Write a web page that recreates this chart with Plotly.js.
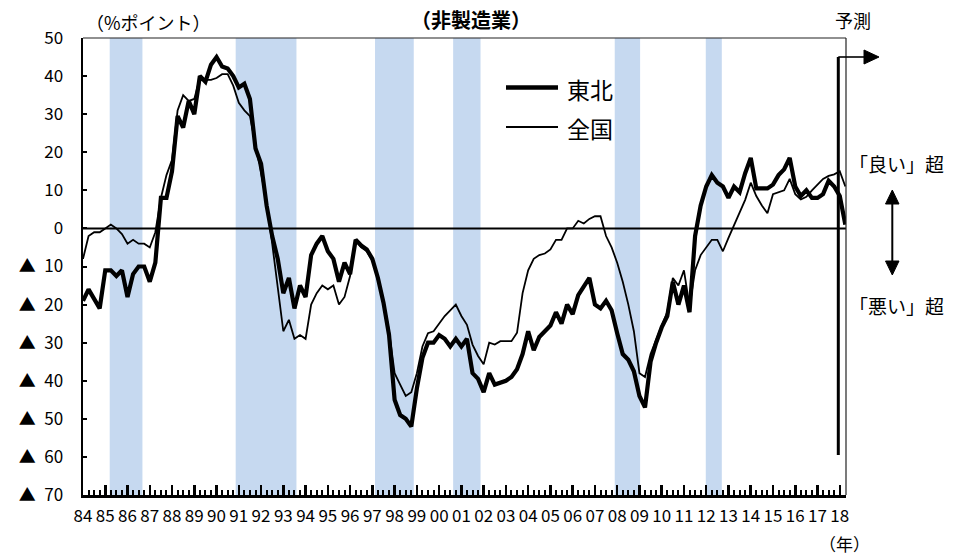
<!DOCTYPE html>
<html>
<head>
<meta charset="utf-8">
<script src="https://cdn.plot.ly/plotly-3.0.1.min.js"></script>
<style>html,body{margin:0;padding:0;background:#fff;}#chart{width:962px;height:555px;}</style>
</head>
<body>
<div id="chart"></div>
<script>
// Quarterly series, 1984Q1 .. 2018Q2 (last = forecast)
const startYear = 1984;
const tohoku = [
 -19,-16,-18.5,-21, -11,-11,-12.5,-11, -18,-12,-10,-10, -14,-9,8,8,
 15,29.5,26.5,33.5, 30,40,38.5,43, 45,42.5,42,40, 37,38,34,21,
 17,6,-2,-8, -17,-13,-21,-15, -18,-7,-4,-2, -6,-8,-14,-9,
 -12,-3,-4.5,-5.5, -8,-13,-19.5,-28, -45,-49,-50,-52, -42,-34,-30,-30,
 -28,-29,-31,-29, -31,-29,-38,-39.5, -43,-38,-41,-40.5, -40,-39,-37,-33,
 -27,-32,-28.5,-27, -25.5,-22,-25,-20, -22.5,-17.5,-15,-13, -20,-21,-19,-21.5,
 -27.5,-33,-34.5,-37.5, -44,-47,-35,-30, -26,-23,-14,-20, -15,-22,-2,6,
 11,14,12,11, 8,11,9.5,14.5, 18.5,10.5,10.5,10.5, 11.5,14,15.5,18.5,
 11,8.5,10,8, 8,9,12.5,11, 8.5,1
];
const zenkoku = [
 -8,-2,-1,-1, 0,1,0,-1.5, -4,-3,-4,-4, -5,-1,8,14,
 18,31,35,33.5, 34,39.5,39,39, 39.5,40.5,40.5,37.5, 33,31,29.5,22,
 15,7,-4,-15, -27,-24,-29,-28, -29,-20,-17,-15, -16,-15,-20,-18,
 -12.5,-3,-5,-6, -8.5,-12.5,-19,-27, -38,-41,-44,-43, -38,-31,-27.5,-27,
 -25,-23,-21.5,-20, -23,-25.3,-30.5,-33.5, -35.7,-30,-30.5,-29.6, -29.6,-29.6,-27.4,-17,
 -11,-8,-7,-6.6, -5.5,-3,-3,0, 0,2,1.3,2.5, 3.2,3.2,-2,-5,
 -9,-14,-20,-27, -38,-39,-33,-29, -25.5,-22,-13,-15, -11,-20.5,-11,-7,
 -5,-3,-3,-6, -2.5,1,4.5,7.5, 12,8.5,6,4, 9,9.5,10,13,
 9,7.6,8.3,10, 11.5,13,13.8,14.2, 15,11
];
const yearTicks = [1984,1985,1986,1987,1988,1989,1990,1991,1992,1993,1994,1995,1996,1997,1998,1999,2000,2001,2002,2003,2004,2005,2006,2007,2008,2009,2010,2011,2012,2013,2014,2015,2016,2017,2018];
const yearLabels = ['84','85','86','87','88','89','90','91','92','93','94','95','96','97','98','99','00','01','02','03','04','05','06','07','08','09','10','11','12','13','14','15','16','17','18'];
const yTickVals = [50,40,30,20,10,0,-10,-20,-30,-40,-50,-60,-70];
const yTickText = ['50','40','30','20','10','0','▲\u200210','▲\u200220','▲\u200230','▲\u200240','▲\u200250','▲\u200260','▲\u200270'];
// recession periods (fractional years)
const recessions = [[1985.20,1986.67],[1990.86,1993.59],[1997.12,1998.86],[2000.63,2001.86],[2007.89,2009.03],[2011.98,2012.70]];

const xq = tohoku.map((_, i) => startYear + i / 4);

const FONT = '"Noto Sans CJK JP", "Noto Sans", sans-serif';
const L = 83, R = 846, T = 38, B = 495;
const px = v => (v - L) / (R - L);
const py = v => (B - v) / (B - T);

const shapes = [];
recessions.forEach(r => shapes.push({type:'rect', xref:'x', yref:'paper', x0:r[0], x1:r[1], y0:0, y1:1,
  fillcolor:'rgb(198,217,240)', line:{width:0}, layer:'below'}));
shapes.push({type:'line', xref:'paper', yref:'y', x0:0, x1:1, y0:0, y1:0, line:{color:'black', width:2}, layer:'below'});
// top & right border
shapes.push({type:'line', xref:'paper', yref:'paper', x0:0, x1:1, y0:1, y1:1, line:{color:'#222', width:1.2}});
shapes.push({type:'line', xref:'paper', yref:'paper', x0:1, x1:1, y0:0, y1:1, line:{color:'#222', width:1.2}});
// legend samples
shapes.push({type:'line', xref:'paper', yref:'paper', x0:px(506), x1:px(558), y0:py(87.5), y1:py(87.5), line:{color:'black', width:4.5}});
shapes.push({type:'line', xref:'paper', yref:'paper', x0:px(506), x1:px(558), y0:py(127), y1:py(127), line:{color:'black', width:1.8}});
// forecast line + arrow
shapes.push({type:'line', xref:'paper', yref:'paper', x0:px(838.3), x1:px(838.3), y0:py(57), y1:py(455), line:{color:'black', width:3}});
shapes.push({type:'line', xref:'paper', yref:'paper', x0:px(838.3), x1:px(866), y0:py(57), y1:py(57), line:{color:'black', width:1.6}});
shapes.push({type:'path', xref:'paper', yref:'paper',
  path:`M ${px(864)} ${py(50)} L ${px(879)} ${py(57)} L ${px(864)} ${py(64)} Z`, fillcolor:'black', line:{color:'black', width:1}});
// double arrow
shapes.push({type:'line', xref:'paper', yref:'paper', x0:px(892.3), x1:px(892.3), y0:py(200), y1:py(265), line:{color:'black', width:2}});
shapes.push({type:'path', xref:'paper', yref:'paper',
  path:`M ${px(885.5)} ${py(204)} L ${px(892.3)} ${py(190)} L ${px(899)} ${py(204)} Z`, fillcolor:'black', line:{color:'black', width:1}});
shapes.push({type:'path', xref:'paper', yref:'paper',
  path:`M ${px(885.5)} ${py(261)} L ${px(892.3)} ${py(275)} L ${px(899)} ${py(261)} Z`, fillcolor:'black', line:{color:'black', width:1}});

const ann = (text, x, y, size, opts) => Object.assign({text, xref:'paper', yref:'paper', x:px(x), y:py(y),
  showarrow:false, xanchor:'center', yanchor:'middle', font:{family:FONT, size, color:'black'}}, opts || {});
const annotations = [
  ann('<b>（非製造業）</b>', 471, 20, 20),
  ann('（%ポイント）', 148, 22, 18),
  ann('予測', 853, 20, 18),
  ann('東北', 565, 89, 23, {xanchor:'left'}),
  ann('全国', 565, 128, 23, {xanchor:'left'}),
  ann('「良い」超', 896, 164, 19),
  ann('「悪い」超', 896, 305, 19),
  ann('（年）', 844, 543, 17)
];

const traces = [
  {x:xq, y:tohoku, type:'scatter', mode:'lines', name:'東北', line:{color:'black', width:4.2}, showlegend:false},
  {x:xq, y:zenkoku, type:'scatter', mode:'lines', name:'全国', line:{color:'black', width:1.8}, showlegend:false}
];

const layout = {
  width:962, height:555,
  margin:{l:L, r:962-R, t:T, b:555-B},
  paper_bgcolor:'white', plot_bgcolor:'white',
  font:{family:FONT, color:'black'},
  showlegend:false,
  xaxis:{range:[1984, 2018.28], tickmode:'array', tickvals:yearTicks, ticktext:yearLabels,
    ticks:'inside', ticklen:10, tickwidth:2.5, tickcolor:'black',
    showline:true, linecolor:'black', linewidth:2.5, showgrid:false, zeroline:false,
    tickfont:{family:FONT, size:17, color:'black'}, ticklabelstandoff:4,
    minor:{tick0:1984, dtick:0.25, ticks:'inside', ticklen:5, tickwidth:2, tickcolor:'black', showgrid:false}},
  yaxis:{range:[-70, 50], tickmode:'array', tickvals:yTickVals, ticktext:yTickText,
    ticks:'inside', ticklen:4, tickwidth:2, tickcolor:'black',
    showline:true, linecolor:'black', linewidth:2.5, showgrid:false, zeroline:false,
    tickfont:{family:FONT, size:17, color:'black'}, ticklabelstandoff:14},
  shapes, annotations
};

Plotly.newPlot('chart', traces, layout, {displayModeBar:false, staticPlot:true});
</script>
</body>
</html>
